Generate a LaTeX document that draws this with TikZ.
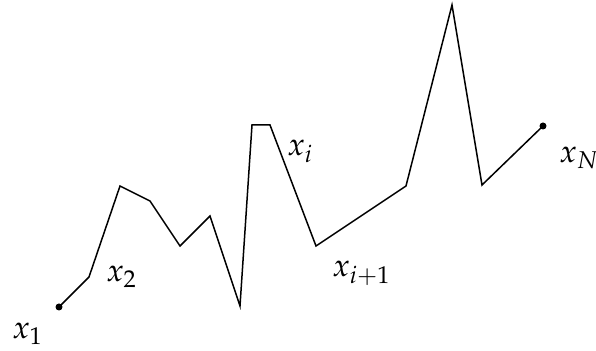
\documentclass[tikz,border=0pt]{standalone}
\usepackage{mathpazo}
\usetikzlibrary{positioning}

\begin{document}
\begin{tikzpicture}[
  x=0.5pt,y=-0.5pt,
  path/.style={line width=0.75pt,line join=miter},
  lbl/.style={anchor=base west,inner sep=0pt,font=\fontsize{16}{19}\selectfont},
  dot/.style={circle,fill,inner sep=0pt,minimum size=3.5pt}
]
  \useasboundingbox (0,0) rectangle (596,351);
  % Vertices of the path
  \coordinate (p1) at (59,307);
  \coordinate (p2) at (89,277);
  \coordinate (p3) at (120,186);
  \coordinate (p4) at (150,201);
  \coordinate (p5) at (180,246);
  \coordinate (p6) at (210,216);
  \coordinate (p7) at (240,306);
  \coordinate (p8) at (252,125);
  \coordinate (p9) at (270,125);
  \coordinate (p10) at (316,246);
  \coordinate (p11) at (406,186);
  \coordinate (p12) at (452,5);
  \coordinate (p13) at (482,185);
  \coordinate (p14) at (543,126);
  \draw[path] (p1) -- (p2) -- (p3) -- (p4) -- (p5) -- (p6) -- (p7) -- (p8)
    -- (p9) -- (p10) -- (p11) -- (p12) -- (p13) -- (p14);
  % End points
  \node[dot] (start) at (p1) {};
  \node[dot] (end) at (p14) {};
  % Labels
  \node[lbl] (l1) at (12,339) {$x_1$};
  \node[lbl] (l2) at (106,282) {$x_2$};
  \node[lbl] (li) at (287,156) {$x_i$};
  \node[lbl] (lip) at (332,277) {$x_{i+1}$};
  \node[lbl] (lN) at (559,163) {$x_N$};
\end{tikzpicture}
\end{document}
